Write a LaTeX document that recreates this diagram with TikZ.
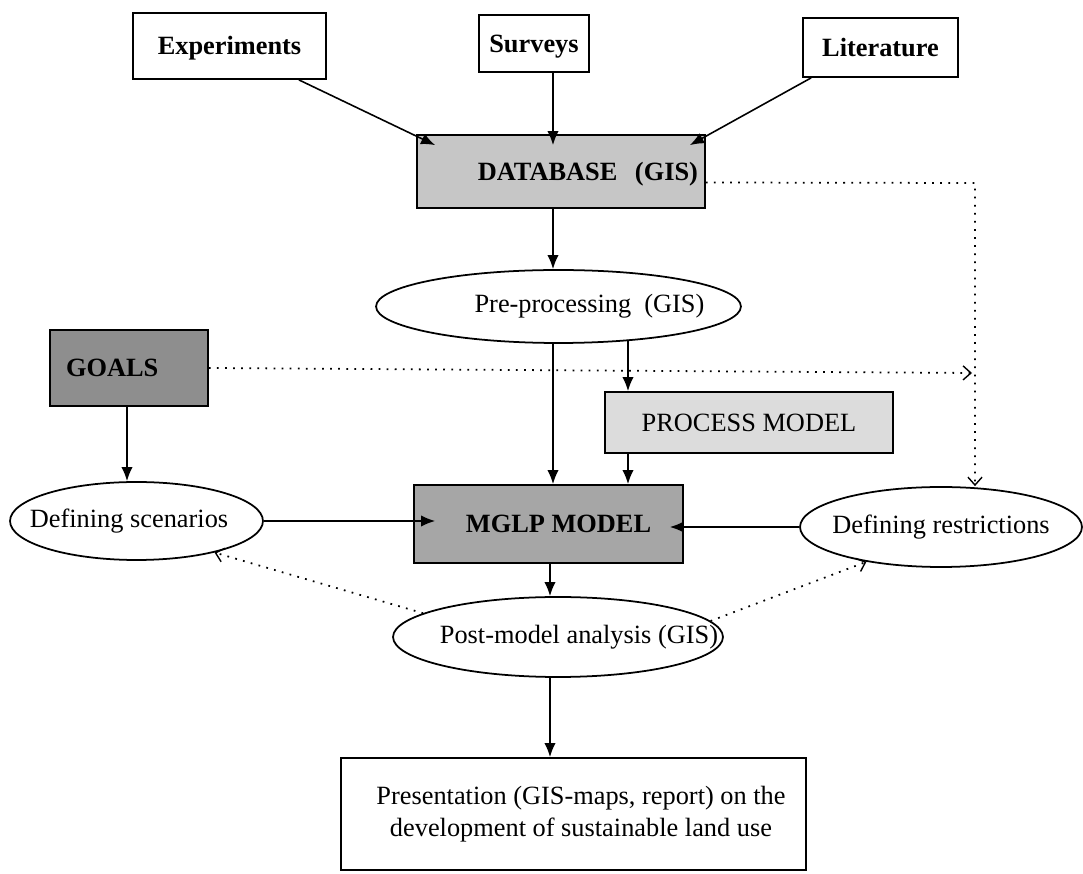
\documentclass[tikz,border=0pt]{standalone}
\usepackage{fontspec}
\setmainfont{Liberation Serif}
\usetikzlibrary{arrows.meta,shapes.geometric,calc}
\definecolor{dbgray}{HTML}{C6C6C6}
\definecolor{goalgray}{HTML}{8E8E8E}
\definecolor{mglpgray}{HTML}{A6A6A6}
\definecolor{procgray}{HTML}{DCDCDC}
\tikzset{
  box/.style={draw, line width=1pt, inner sep=0pt, text height=11pt, text depth=1pt, font=\fontsize{15}{18}\selectfont},
  oval/.style={draw, ellipse, line width=1pt, inner sep=0pt},
  arr/.style={line width=0.9pt, -{Latex[length=8pt,width=6.5pt]}},
  dots/.style={line width=1pt, dash pattern=on 1pt off 3.6pt, -{Straight Barb[length=4.5pt,width=8pt,line width=0.8pt]}},
  lbl/.style={font=\fontsize{15}{18}\selectfont, inner sep=0pt}
}
\begin{document}
\begin{tikzpicture}[x=0.02cm,y=-0.02cm]
\useasboundingbox (0,0) rectangle (1083,874);
\fill[white] (0,0) rectangle (1083,874);
% nodes
\node[box, minimum width=3.86cm, minimum height=1.32cm, font=\fontsize{15}{18}\selectfont\bfseries] (exp) at (229.5,46) {Experiments};
\node[box, minimum width=2.2cm, minimum height=1.14cm, font=\fontsize{15}{18}\selectfont\bfseries] (sur) at (534,43.5) {Surveys};
\node[box, minimum width=3.1cm, minimum height=1.18cm, font=\fontsize{15}{18}\selectfont\bfseries] (lit) at (880.5,47.5) {Literature};
\node[box, fill=dbgray, minimum width=5.76cm, minimum height=1.46cm, inner xsep=0.14cm, text width=5.48cm, align=right, font=\fontsize{15}{18}\selectfont\bfseries] (db) at (561,171.5) {DATABASE\ \ (GIS)};
\node[oval, minimum width=7.3cm, minimum height=1.46cm,
  label={[lbl, xshift=0.62cm]center:Pre-processing\ \ (GIS)}] (pre) at (558.5,306.5) {};
\node[box, fill=goalgray, minimum width=3.16cm, minimum height=1.52cm, inner xsep=0.32cm, text width=2.52cm, align=left, font=\fontsize{15}{18}\selectfont\bfseries] (goals) at (129,368) {GOALS};
\node[box, fill=procgray, minimum width=5.76cm, minimum height=1.22cm] (proc) at (749,422.5) {PROCESS MODEL};
\node[oval, minimum width=5.06cm, minimum height=1.56cm,
  label={[lbl, xshift=-0.15cm]center:Defining scenarios}] (scen) at (136.5,521) {};
\node[box, fill=mglpgray, minimum width=5.38cm, minimum height=1.56cm,
  font=\fontsize{15}{18}\selectfont\bfseries] (mglp) at (548.5,524) {\hspace{0.4cm}MGLP MODEL};
\node[oval, minimum width=5.64cm, minimum height=1.6cm,
  label={[lbl]center:Defining restrictions}] (restr) at (941,527) {};
\node[oval, minimum width=6.6cm, minimum height=1.6cm,
  label={[lbl, xshift=0.42cm]center:Post-model analysis (GIS)}] (post) at (558,637) {};
\node[box, minimum width=9.3cm, minimum height=2.24cm, text height=, text depth=, align=center] (pres) at (573.5,814) {\hspace{0.3cm}Presentation (GIS-maps, report) on the\\\hspace{0.3cm}development of sustainable land use};
% helper coordinates
\coordinate (xA) at (553,0);
\coordinate (xB) at (628,0);
\coordinate (xC) at (127,0);
\coordinate (xD) at (550,0);
\coordinate (xE) at (975,0);
\coordinate (gend) at (972,373);
% connectors
\draw[arr] ($(exp.south east)+(-28,0)$) -- ($(db.north west)+(19,11)$);
\draw[arr] (sur.south -| xA) -- ($(db.north -| xA)+(0,11)$);
\draw[arr] ($(lit.south west)+(9,0)$) -- ($(db.north east)+(-16,11)$);
\draw[arr] (db.south -| xA) -- (pre.north -| xA);
\draw[arr] (pre.south -| xA) -- (mglp.north -| xA);
\draw[arr] ($(pre.center)+(69.5,33.5)$) -- (proc.north -| xB);
\draw[arr] (proc.south -| xB) -- (mglp.north -| xB);
\draw[arr] (goals.south -| xC) -- (scen.north -| xC);
\draw[arr] (scen.east) -- ($(mglp.west |- scen.east)+(22,0)$);
\draw[arr] (restr.west) -- ($(mglp.east |- restr.west)+(-14,0)$);
\draw[arr] (mglp.south -| xD) -- (post.north -| xD);
\draw[arr] (post.south -| xD) -- (pres.north -| xD);
% dotted connectors
\draw[dots] ($(db.east)+(0,11)$) -- (xE |- 183,183) -- (restr.north -| xE);
\draw[dots] (goals.east) -- (gend);
\draw[dots] (post.170) -- (scen.-22);
\draw[dots] (post.6) -- (restr.205);
\end{tikzpicture}
\end{document}
